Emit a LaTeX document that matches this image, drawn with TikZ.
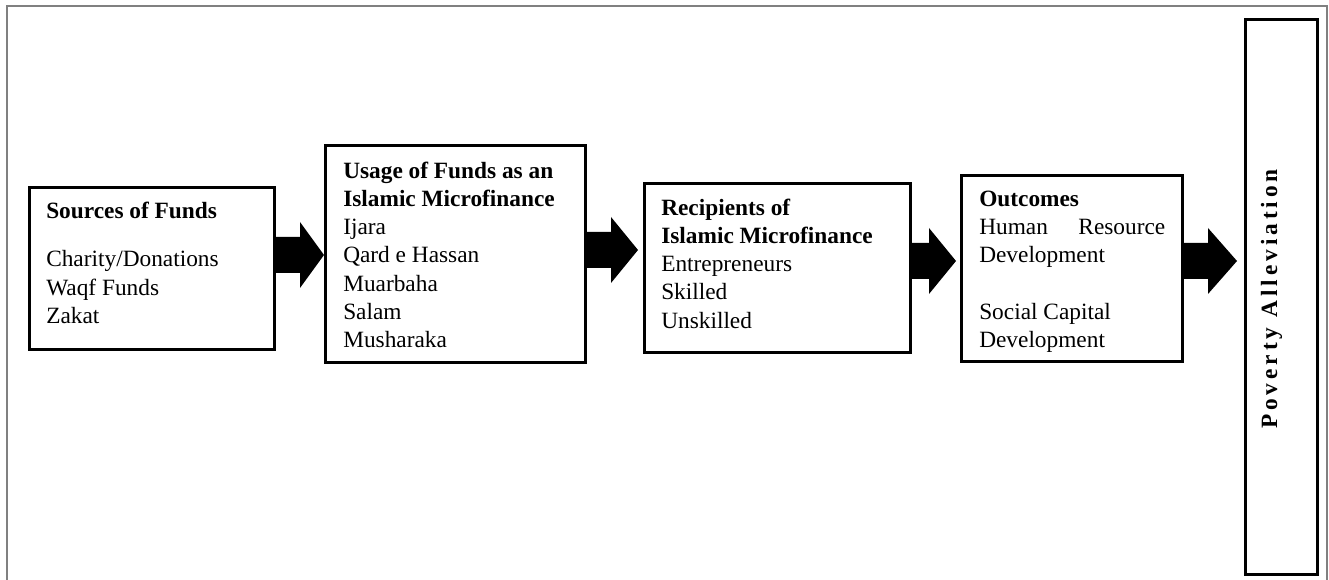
\documentclass[tikz,border=0pt]{standalone}
\usepackage{fontspec}
\setmainfont{Liberation Serif}
\usetikzlibrary{calc}

\begin{document}
\begin{tikzpicture}[x=0.75pt,y=-0.75pt,
  box/.style={draw,line width=2pt,inner sep=0pt,anchor=north west},
  txt/.style={inner sep=0pt,anchor=north west,align=left,
    font=\fontsize{17.5}{21.2}\selectfont},
  ]
  \useasboundingbox (0,0) rectangle (1329,580);
  \draw[line width=1.5pt,black!50] (7,580) -- (7,6) -- (1327,6) -- (1327,580);
  % boxes
  \node[box,minimum width=184pt,minimum height=121.75pt] (src) at (28,186) {};
  \node[box,minimum width=195.25pt,minimum height=163pt] (use) at (324,144) {};
  \node[box,minimum width=199.75pt,minimum height=127pt] (rec) at (643,182) {};
  \node[box,minimum width=166pt,minimum height=139.75pt] (out) at (960,174) {};
  \node[box,minimum width=54.25pt,minimum height=416.5pt] (pov) at (1244,18) {};
  % texts
  \node[txt] (src-txt) at ($(src.north west)+(18,12)$) {\strut\textbf{Sources of Funds}\\[15.5pt]
    Charity/Donations\\ Waqf Funds\\ Zakat};
  \node[txt] (use-txt) at ($(use.north west)+(19,14)$) {\strut\textbf{Usage of Funds as an}\\
    \textbf{Islamic Microfinance}\\ Ijara\\ Qard e Hassan\\ Muarbaha\\ Salam\\ Musharaka};
  \node[txt] (rec-txt) at ($(rec.north west)+(18,13)$) {\strut\textbf{Recipients of}\\
    \textbf{Islamic Microfinance}\\ Entrepreneurs\\ Skilled\\ Unskilled};
  \node[txt] (out-txt) at ($(out.north west)+(19,12)$) {\strut\textbf{Outcomes}\\
    \makebox[139.5pt][s]{Human Resource}\\ Development\\[21.2pt]
    Social Capital\\ Development};
  \node[txt,anchor=base,rotate=90,
    font=\fontsize{17.5}{21.2}\selectfont\bfseries\addfontfeature{LetterSpace=17}]
    (pov-txt) at ($(pov.center)+(-4.5,2)$) {Poverty Alleviation};
  % block arrows
  \foreach \a/\b/\y/\g/\h in {src/use/255/0/24,use/rec/250/5/27,rec/out/261/4/27,out/pov/261/7/29}{
    \coordinate (\a-tail) at (\a.east |- 0,\y);
    \coordinate (\a-tip) at ($(\b.west |- 0,\y)+(-\g,0)$);
    \fill ($(\a-tail)+(0,-18)$) -- ($(\a-tip)+(-\h,-18)$) -- ($(\a-tip)+(-\h,-33)$) -- (\a-tip)
      -- ($(\a-tip)+(-\h,33)$) -- ($(\a-tip)+(-\h,18)$) -- ($(\a-tail)+(0,18)$) -- cycle;
  }
\end{tikzpicture}
\end{document}
